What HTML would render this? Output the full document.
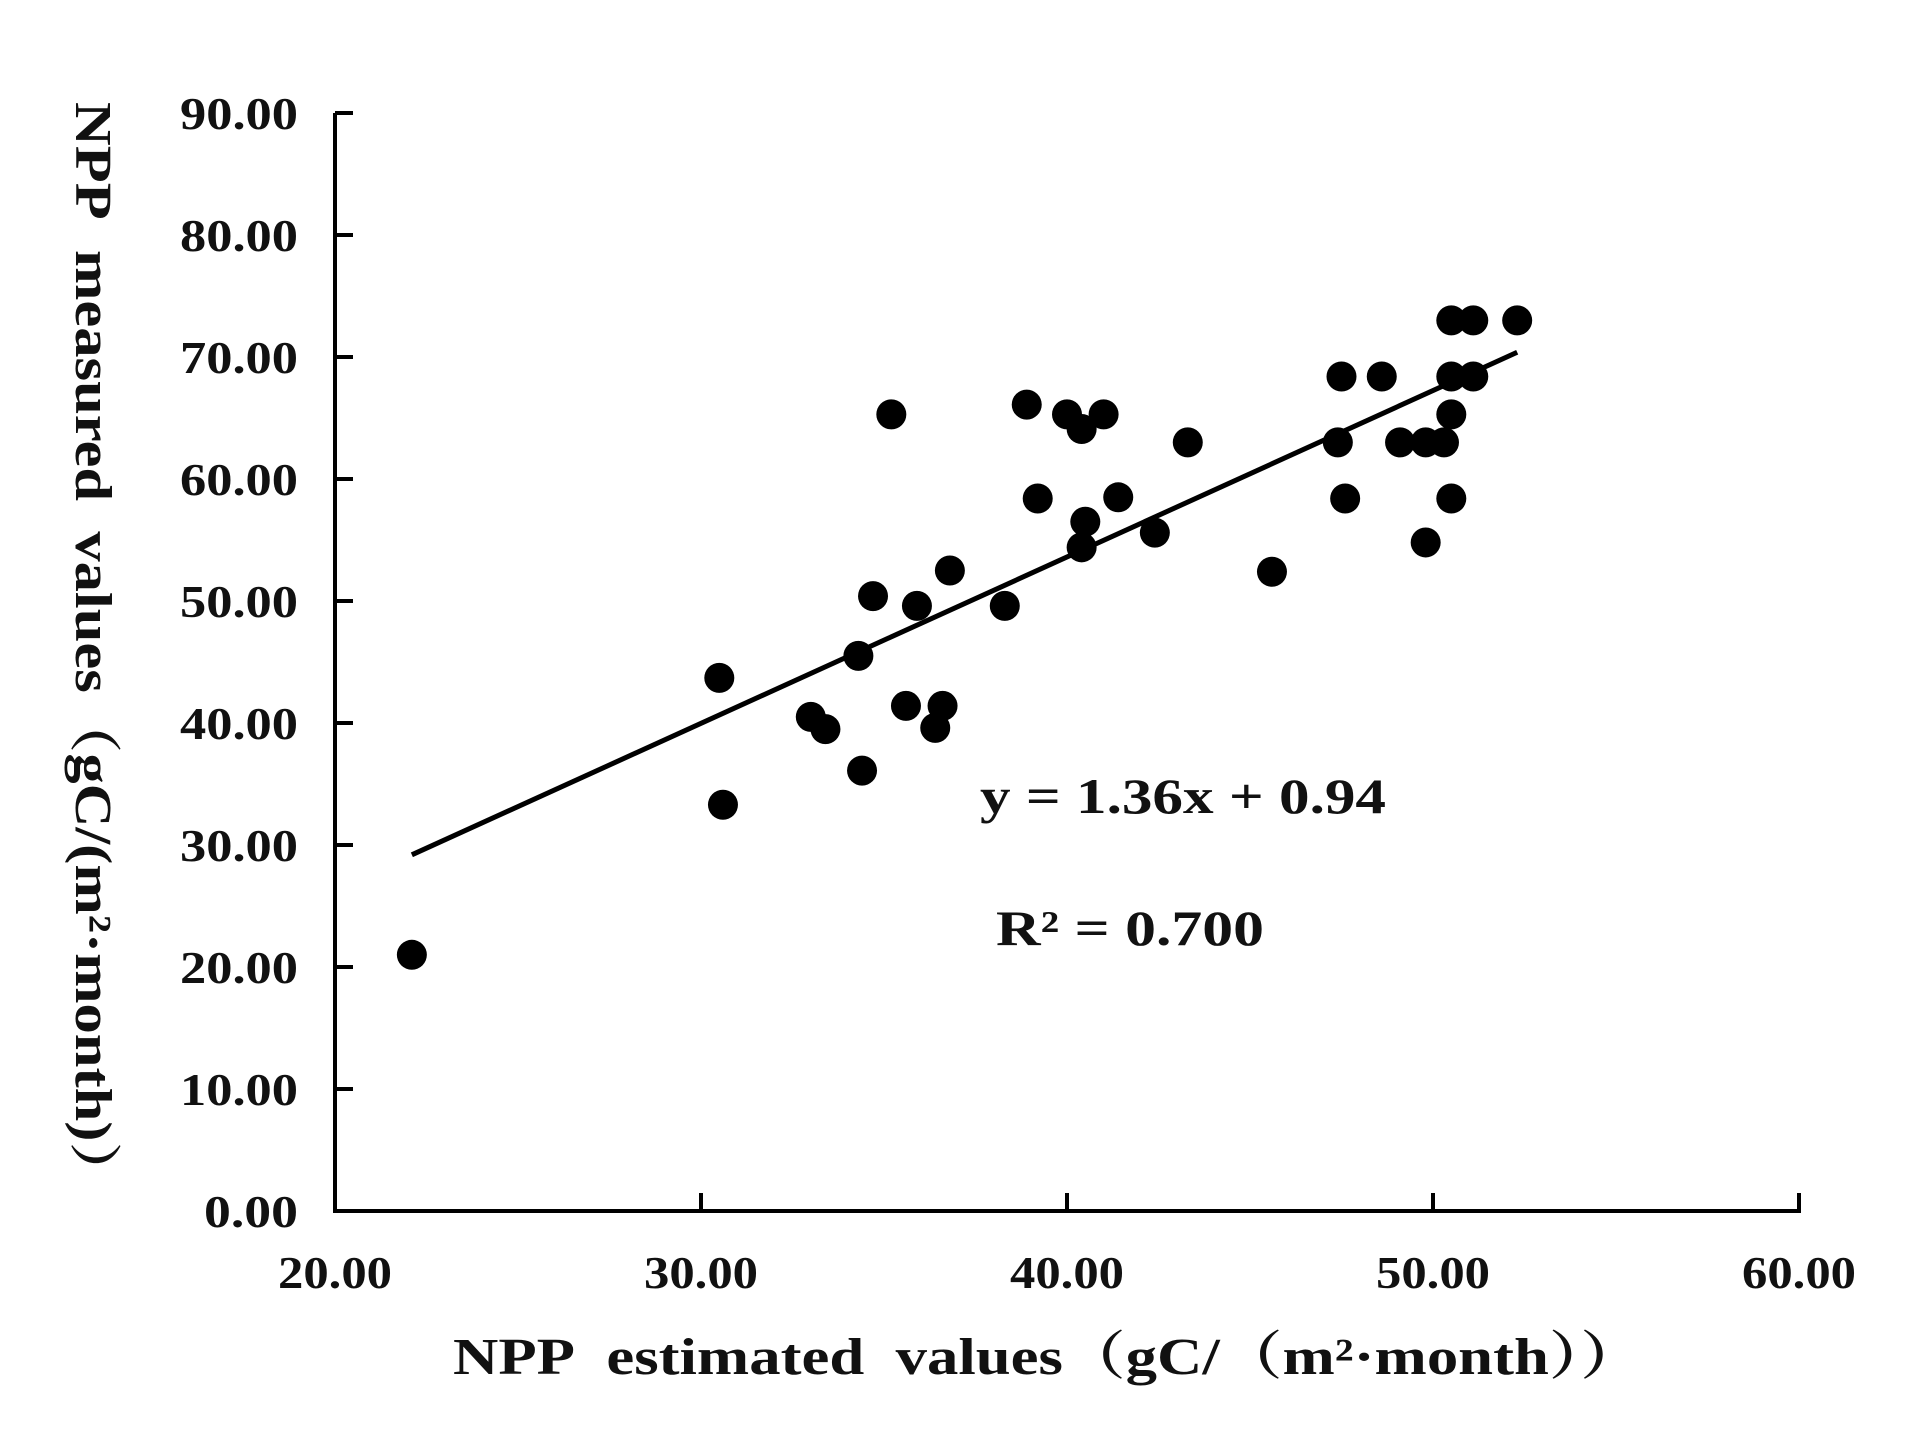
<!DOCTYPE html>
<html><head><meta charset="utf-8"><style>
html,body{margin:0;padding:0;background:#fff;}
svg{display:block;}
text{font-family:"Liberation Serif","Noto Serif CJK SC",serif;font-weight:bold;fill:#111;}
</style></head><body>
<svg id="chart" width="1908" height="1432" viewBox="0 0 1908 1432" xmlns="http://www.w3.org/2000/svg">
<g id="axes"></g>
<g id="marks"></g>
<text transform="translate(76,652) rotate(90)" text-anchor="middle" font-size="52" textLength="1100" lengthAdjust="spacingAndGlyphs">NPP&#160;&#160;measured&#160;&#160;values（gC/(m²·month)）</text>
<text x="1048" y="1374" text-anchor="middle" font-size="52" textLength="1190" lengthAdjust="spacingAndGlyphs">NPP&#160;&#160;estimated&#160;&#160;values（gC/（m²·month））</text>
<text x="980" y="813" font-size="50" textLength="406" lengthAdjust="spacingAndGlyphs">y = 1.36x + 0.94</text>
<text x="996" y="945" font-size="50" textLength="268" lengthAdjust="spacingAndGlyphs">R² = 0.700</text>
</svg>
<script>
const xVals = [22.1,30.5,30.6,33.0,33.4,34.3,34.4,34.7,35.2,35.6,35.9,36.4,36.6,36.8,38.3,38.9,39.2,40.0,40.4,40.5,40.4,41.0,41.4,42.4,43.3,45.6,47.4,47.5,47.6,48.6,49.1,49.8,49.8,50.3,50.5,50.5,50.5,50.5,51.1,51.1,52.3];
const yVals = [21.0,43.7,33.3,40.5,39.5,45.5,36.1,50.4,65.3,41.4,49.6,39.6,41.4,52.5,49.6,66.1,58.4,65.3,64.1,56.5,54.4,65.3,58.5,55.6,63.0,52.4,63.0,68.4,58.4,68.4,63.0,63.0,54.8,63.0,73.0,68.4,65.3,58.4,73.0,68.4,73.0];
const xTicks = [20,30,40,50,60];
const yTicks = [0,10,20,30,40,50,60,70,80,90];
const xTickLabels = ["20.00","30.00","40.00","50.00","60.00"];
const yTickLabels = ["0.00","10.00","20.00","30.00","40.00","50.00","60.00","70.00","80.00","90.00"];
const trendX = [22.1, 52.3];
const trendSlope = [1.364];
const trendIntercept = [-0.95];

const NS = "http://www.w3.org/2000/svg";
const X0=335, X1=1799, Y0=1211, Y1=113;
const sx = v => X0 + (v-20)/(60-20)*(X1-X0);
const sy = v => Y0 - (v-0)/(90-0)*(Y0-Y1);
function mk(tag, attrs, parent){const e=document.createElementNS(NS,tag);for(const k in attrs)e.setAttribute(k,attrs[k]);parent.appendChild(e);return e;}
const axes=document.getElementById('axes'), marks=document.getElementById('marks');

let e=mk('line',{x1:X0,y1:Y1,x2:X0,y2:Y0,stroke:'#000','stroke-width':4},axes);


e=mk('line',{x1:X0-2,y1:Y0,x2:X1+2,y2:Y0,stroke:'#000','stroke-width':4},axes);



yTicks.forEach((t,i)=>{
  const y=sy(t);
  let tk=mk('line',{x1:X0,y1:y,x2:X0+18,y2:y,stroke:'#000','stroke-width':4},axes);
  
  
  let tx=mk('text',{x:298,y:y+16,'text-anchor':'end','font-size':46,textLength:(yTickLabels[i].length===4?94:118),lengthAdjust:'spacingAndGlyphs'},axes);
  tx.textContent=yTickLabels[i];
  
  
});
xTicks.forEach((t,i)=>{
  const x=sx(t);
  let tk=mk('line',{x1:x,y1:Y0,x2:x,y2:Y0-18,stroke:'#000','stroke-width':4},axes);
  
  
  let tx=mk('text',{x:x,y:1288,'text-anchor':'middle','font-size':46,textLength:114,lengthAdjust:'spacingAndGlyphs'},axes);
  tx.textContent=xTickLabels[i];
  
  
});

const tl=mk('line',{x1:sx(trendX[0]),y1:sy(trendSlope[0]*trendX[0]+trendIntercept[0]),x2:sx(trendX[1]),y2:sy(trendSlope[0]*trendX[1]+trendIntercept[0]),stroke:'#000','stroke-width':5},marks);



xVals.forEach((xv,i)=>{
  const c=mk('circle',{cx:sx(xv),cy:sy(yVals[i]),r:15,fill:'#000'},marks);
  
  
});
</script>
</body></html>
